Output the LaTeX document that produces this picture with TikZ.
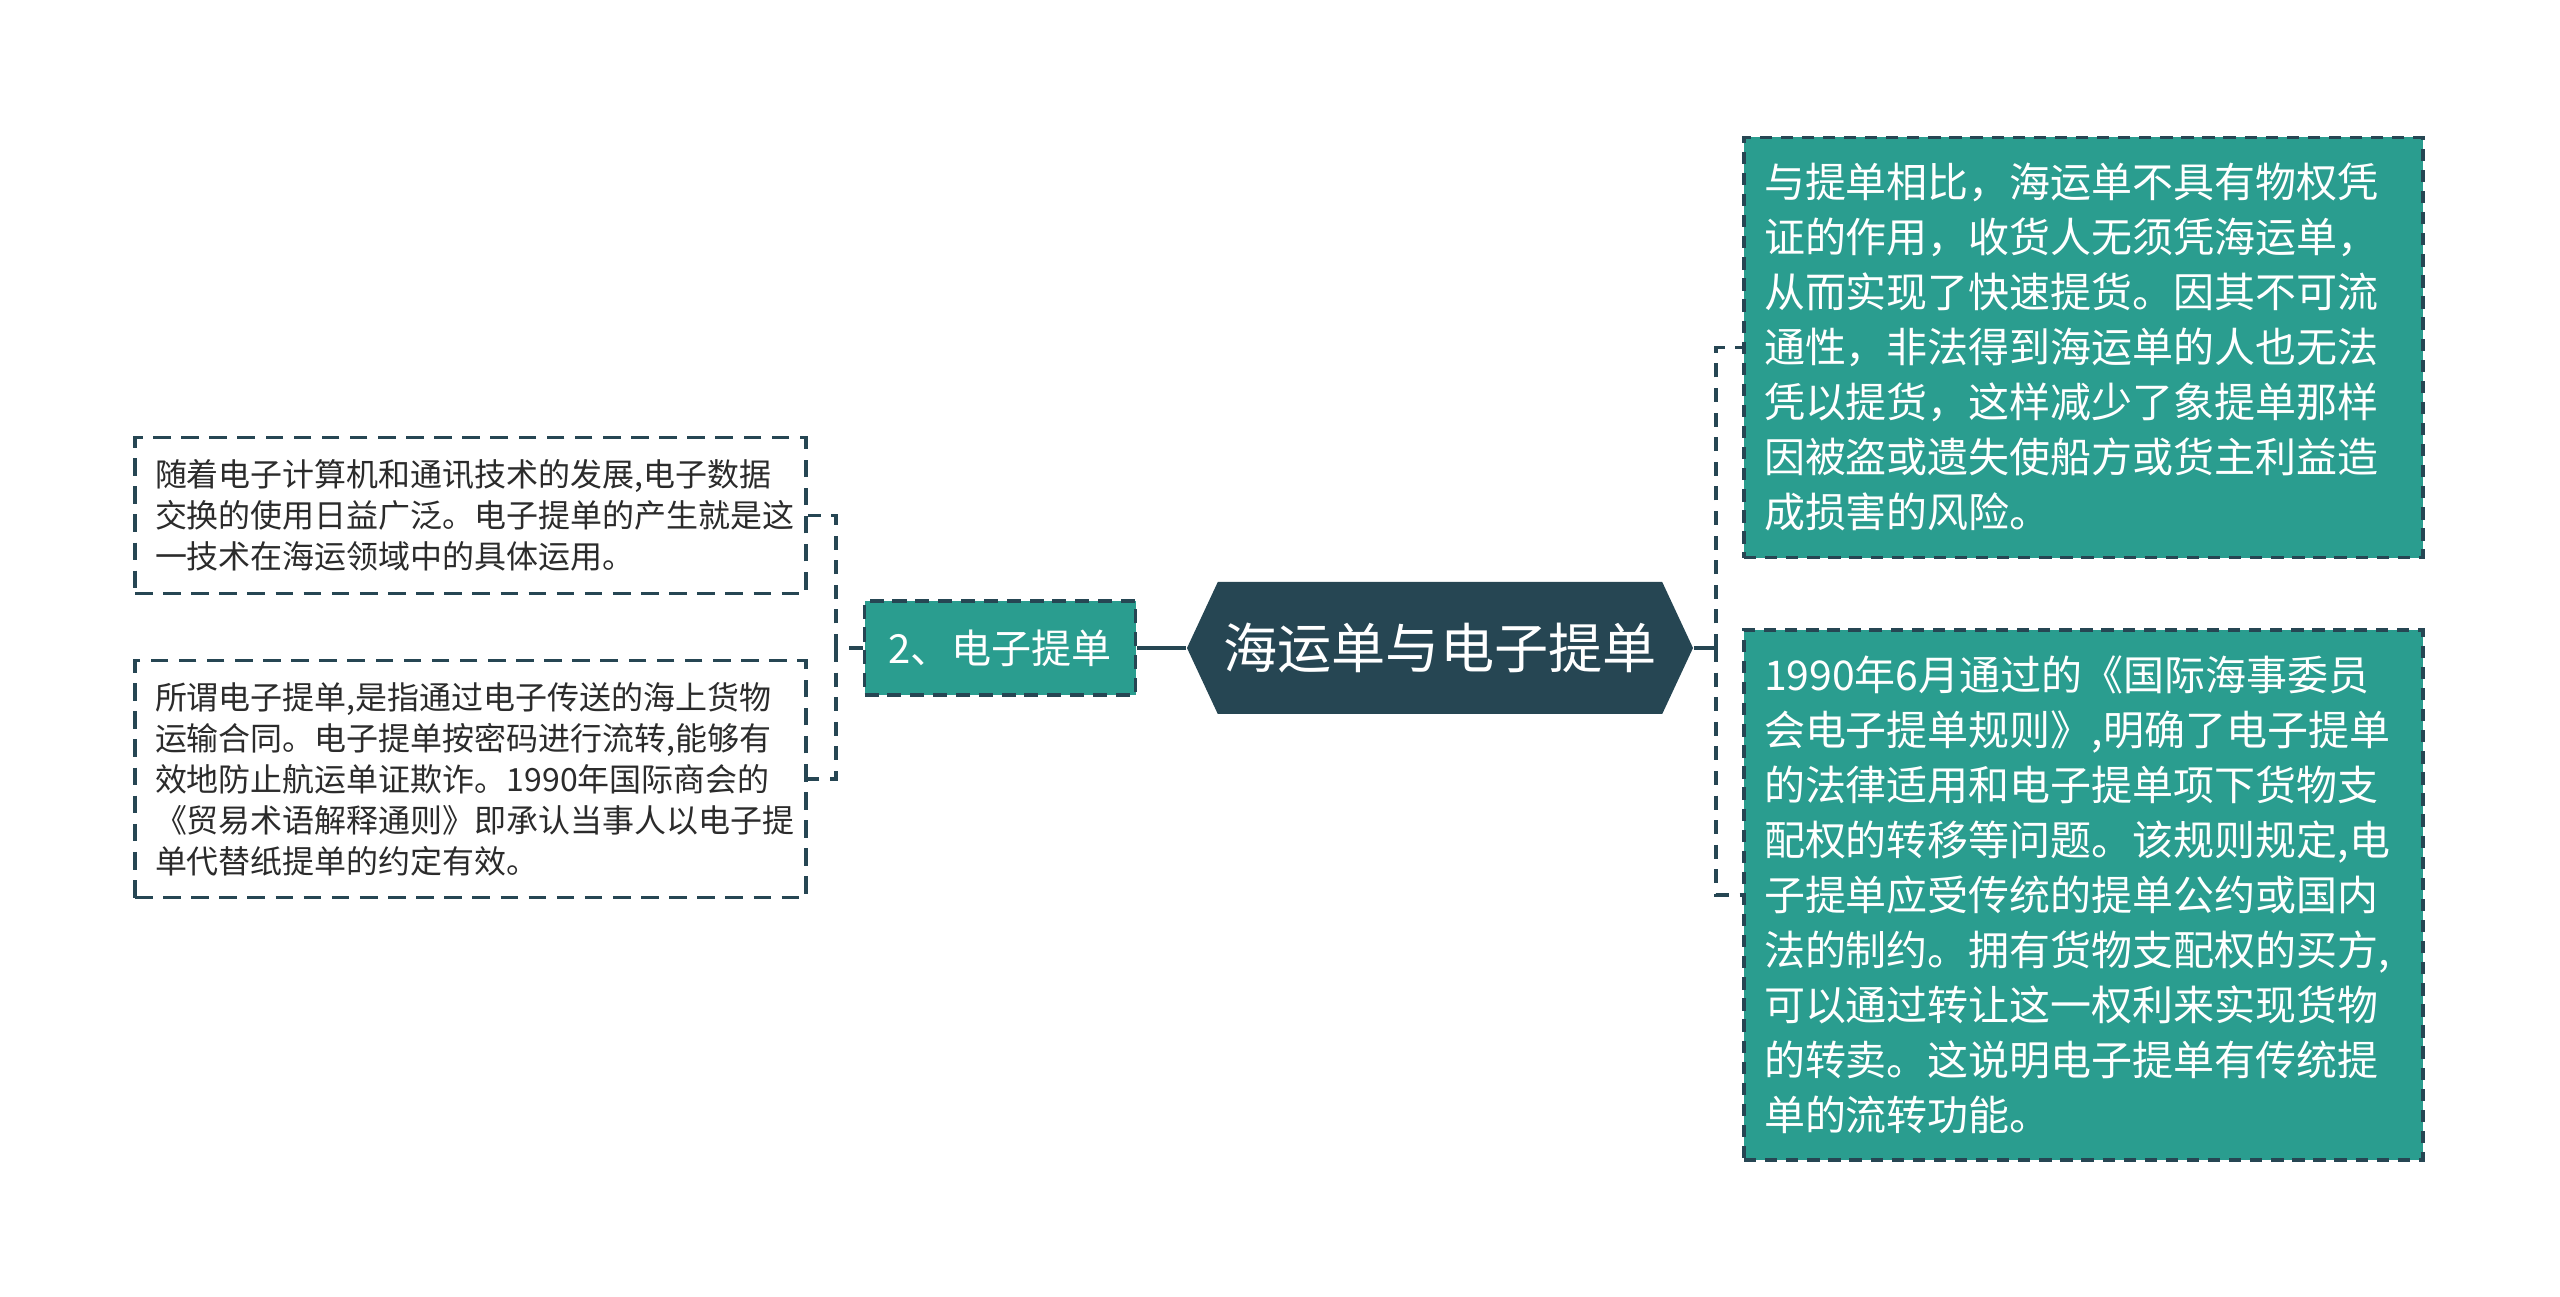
\documentclass[tikz,border=0pt]{standalone}
\usepackage{fontspec}
\setmainfont{Noto Sans CJK SC}
\usetikzlibrary{shapes.symbols}
\definecolor{deep}{HTML}{264653}
\definecolor{shuteal}{HTML}{2A9D8F}
\definecolor{ink}{HTML}{2B2B2B}

\begin{document}
\begin{tikzpicture}[
  rootnode/.style={shape=signal, signal to=west and east, signal pointer angle=130,
    fill=deep, text=white, inner sep=0pt, minimum width=5.06cm, minimum height=1.32cm,
    font=\fontsize{15.4pt}{18pt}\selectfont},
  subnode/.style={draw=deep, dash pattern=on 4pt off 2.5pt, line width=1pt, fill=shuteal, text=white,
    minimum width=2.71cm, minimum height=0.94cm, font=\fontsize{11.4pt}{14pt}\selectfont},
  leafnode/.style={draw=deep, dash pattern=on 5pt off 3pt, line width=0.9pt, fill=white, text=ink, align=left,
    text width=6.31cm, inner xsep=0.2cm, inner ysep=0.22cm,
    font=\fontsize{9.1pt}{11.66pt}\selectfont},
  notenode/.style={draw=deep, dash pattern=on 3.5pt off 2.5pt, line width=0.9pt, fill=shuteal, text=white, align=left,
    text width=6.39cm, inner xsep=0.2cm, inner ysep=0.26cm,
    font=\fontsize{11.66pt}{15.65pt}\selectfont},
  link/.style={deep, line width=1.2pt},
  dashlink/.style={deep, line width=1.1pt, dash pattern=on 4pt off 3pt}
]
\useasboundingbox (0,0) rectangle (25.60,-12.97);

% centre and first branch
\node[rootnode] (root) at (14.40,-6.48) {海运单与电子提单};
\node[subnode] (sub) at (10.00,-6.48) {2、电子提单};

% left leaves
\node[leafnode] (leafA) at (4.705,-5.155) {随着电子计算机和通讯技术的发展,电子数据\\
交换的使用日益广泛。电子提单的产生就是这\\
一技术在海运领域中的具体运用。};
\node[leafnode] (leafB) at (4.705,-7.79) {所谓电子提单,是指通过电子传送的海上货物\\
运输合同。电子提单按密码进行流转,能够有\\
效地防止航运单证欺诈。1990年国际商会的\\
《贸易术语解释通则》即承认当事人以电子提\\
单代替纸提单的约定有效。};

% right notes
\node[notenode] (noteA) at (20.835,-3.475) {与提单相比，海运单不具有物权凭\\
证的作用，收货人无须凭海运单，\\
从而实现了快速提货。因其不可流\\
通性，非法得到海运单的人也无法\\
凭以提货，这样减少了象提单那样\\
因被盗或遗失使船方或货主利益造\\
成损害的风险。};
\node[notenode] (noteB) at (20.835,-8.95) {1990年6月通过的《国际海事委员\\
会电子提单规则》,明确了电子提单\\
的法律适用和电子提单项下货物支\\
配权的转移等问题。该规则规定,电\\
子提单应受传统的提单公约或国内\\
法的制约。拥有货物支配权的买方,\\
可以通过转让这一权利来实现货物\\
的转卖。这说明电子提单有传统提\\
单的流转功能。};

% connectors, left side
\draw[link] (root.west) -- (sub.east);
\coordinate (lfork) at (8.36,-6.48);
\draw[dashlink] (sub.west) -- (lfork);
\draw[dashlink] (lfork) |- (leafA.east);
\draw[dashlink] (lfork) |- (leafB.east);

% connectors, right side
\coordinate (rfork) at (17.16,-6.48);
\draw[link] (root.east) -- (rfork);
\draw[dashlink] (rfork) |- (noteA.west);
\draw[dashlink] (rfork) |- (noteB.west);
\end{tikzpicture}
\end{document}
